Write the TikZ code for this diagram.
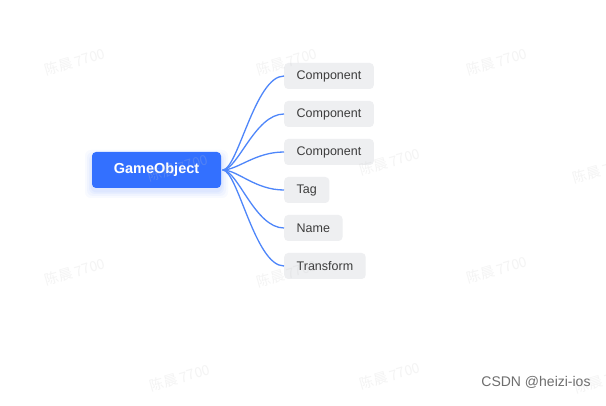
\documentclass[tikz,border=0pt]{standalone}
\usepackage{fontspec}
\setmainfont{Liberation Sans}
\newfontfamily\cjkwm{Noto Sans CJK SC}
\usetikzlibrary{calc}
\definecolor{rootblue}{RGB}{51,112,255}
\definecolor{linkblue}{RGB}{78,134,250}
\definecolor{leafgray}{RGB}{238,239,241}
\definecolor{leaftext}{RGB}{60,60,60}
\definecolor{wmgray}{RGB}{200,200,200}
\definecolor{glow}{RGB}{120,160,255}
\definecolor{csdngray}{RGB}{110,110,110}
\tikzset{
  rootbox/.style={fill=rootblue, rounded corners=4pt, minimum width=129pt, minimum height=36pt,
    inner sep=0pt, text=white, font=\fontsize{14.5}{17}\selectfont\bfseries},
  leafbox/.style={fill=leafgray, rounded corners=4pt, minimum height=26pt, inner xsep=12.5pt,
    inner ysep=0pt, anchor=west, text=leaftext, font=\fontsize{12.5}{15}\selectfont},
  link/.style={draw=linkblue, line width=1.3pt},
  wm/.style={text=wmgray, opacity=0.2, rotate=16, font=\cjkwm\fontsize{14}{16}\selectfont},
}
\begin{document}
\begin{tikzpicture}[x=1pt,y=-1pt]
\useasboundingbox (0,0) rectangle (606,406);
\fill[white] (0,0) rectangle (606,406);
% glow under root
\foreach \e/\o in {7/0.05,5/0.06,3/0.07,1.5/0.08}{
  \fill[glow, opacity=\o, rounded corners=6pt] (92-\e,153-\e+4) rectangle (221+\e,188+\e+3);
}
\node[rootbox] (root) at (156.5,170) {GameObject};
\node[leafbox] (c1) at (284,76) {Component};
\node[leafbox] (c2) at (284,114) {Component};
\node[leafbox] (c3) at (284,152) {Component};
\node[leafbox] (c4) at (284,190) {Tag};
\node[leafbox] (c5) at (284,228) {Name};
\node[leafbox] (c6) at (284,266) {Transform};
\coordinate (o) at ($(root.east)+(1.5,0)$);
\foreach \c in {c1,c2,c3,c4,c5,c6}{
  \draw[link] (o) .. controls ($(o)+(15,0)$) and ($(\c.west)+(-29,0)$) .. (\c.west);
}
% watermarks
\foreach \p/\q [count=\i] in {75/62,287/62,497/62,-31/166,178/168,390/162,603/170,75/272,287/274,497/270,-31/376,180/378,390/376,605/380}{
  \node[wm] (wm\i) at (\p,\q) {陈晨 7700};
}
\node[anchor=base, text=csdngray, font=\fontsize{14}{16}\selectfont] (csdn) at (536,387) {CSDN @heizi-ios};
\end{tikzpicture}
\end{document}
